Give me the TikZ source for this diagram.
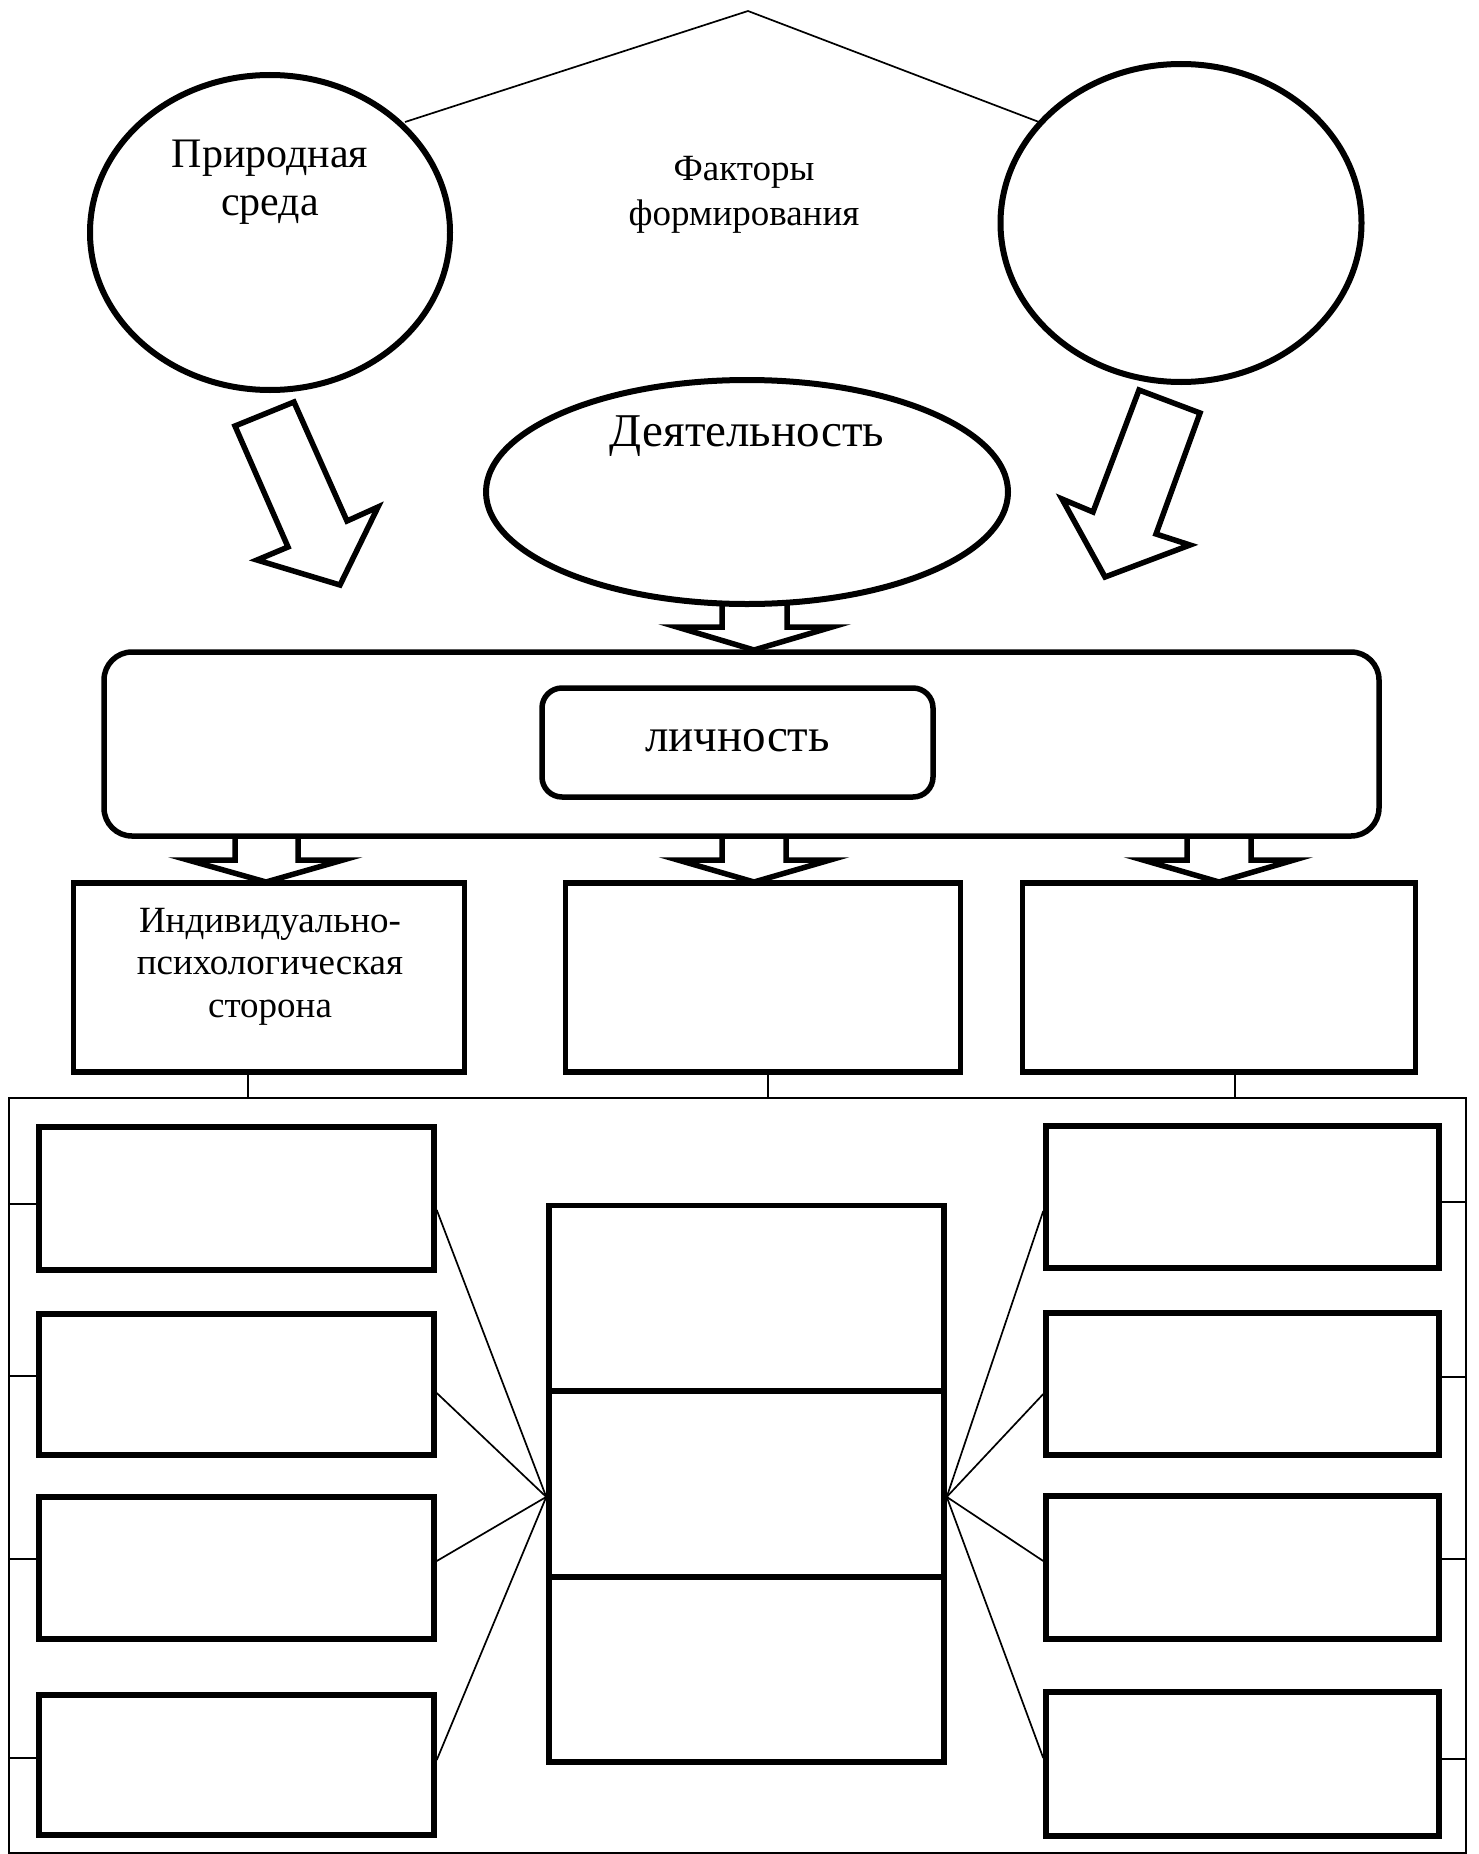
\documentclass[tikz,border=0pt]{standalone}
\usepackage{fontspec}
\setmainfont{Liberation Serif}
\usetikzlibrary{shapes.geometric,calc}
\begin{document}
\begin{tikzpicture}[x=1pt,y=-1pt,
  thickbox/.style={draw, line width=5.5pt, rectangle, inner sep=0pt},
  oval/.style={draw, line width=6pt, ellipse, inner sep=0pt},
  thinline/.style={line width=1.7pt},
  blockarrow/.style={draw, line width=5.5pt, line join=miter, fill=white},
  openarrow/.style={line width=5.5pt, line join=miter},
  txt/.style={anchor=base, inner sep=0pt},
  big/.style={font=\fontsize{42pt}{47pt}\selectfont},
  huge/.style={font=\fontsize{47pt}{52pt}\selectfont},
  mid/.style={font=\fontsize{37pt}{44pt}\selectfont}]
\useasboundingbox (0,0) rectangle (1478,1854);

% top: ellipses and the roof lines
\node[oval, minimum width=360pt, minimum height=315pt] (L) at (270,232.5) {};
\node[oval, minimum width=361pt, minimum height=318pt] (R) at (1181,223) {};
\node[oval, minimum width=522pt, minimum height=224pt] (M) at (747,492) {};
\coordinate (pk) at (748,11);
\coordinate (la) at (405,122);
\coordinate (ra) at (1039,122);
\draw[thinline] (la) -- (pk) -- (ra);

\node[txt, big] (t1a) at (270,168) {Природная};
\node[txt, big] (t1b) at (270,215) {среда};
\node[txt, mid] (t2a) at (744,181) {Факторы};
\node[txt, mid] (t2b) at (744,225) {формирования};
\node[txt, huge] (t3) at (747,446) {Деятельность};

% slanted block arrows
\draw[blockarrow] (235,426) -- (294,402) -- (347,521) -- (378,507) -- (340,585) -- (257,560) -- (288,547) -- cycle;
\draw[blockarrow] (1139,390) -- (1200,413) -- (1156,534) -- (1190,545) -- (1105,577) -- (1062,499) -- (1093,512) -- cycle;

% personality block
\node[thickbox, rounded corners=28pt, minimum width=1275pt, minimum height=184pt] (BR) at (741.5,744) {};
\node[thickbox, rounded corners=20pt, minimum width=391pt, minimum height=109pt] (LI) at (737.5,742.5) {};
\node[txt, huge] (t4) at (737.5,751) {личность};

% arrow from Деятельность to the block
\draw[openarrow] (722,604) -- (722,627) -- (677,627) -- (754,650) -- (832,627) -- (787,627) -- (787,604);

% three boxes
\node[thickbox, minimum width=391pt, minimum height=189pt] (B1) at (269,977.5) {};
\node[thickbox, minimum width=395pt, minimum height=189pt] (B2) at (763,977.5) {};
\node[thickbox, minimum width=393pt, minimum height=189pt] (B3) at (1219,977.5) {};
\node[txt, mid] (t5a) at (270,932) {Индивидуально-};
\node[txt, mid] (t5b) at (270,974) {психологическая};
\node[txt, mid] (t5c) at (270,1017) {сторона};

% arrows from the block to the three boxes
\draw[openarrow] (235,836) -- (235,860) -- (188,860) -- (266,882) -- (343,860) -- (298,860) -- (298,836);
\draw[openarrow] (722,836) -- (722,860) -- (678,860) -- (754,882) -- (830,860) -- (786,860) -- (786,836);
\draw[openarrow] (1187,836) -- (1187,860) -- (1143,860) -- (1219,882) -- (1294,860) -- (1251,860) -- (1251,836);

% outer frame
\node[draw, thinline, rectangle, inner sep=0pt, minimum width=1457pt, minimum height=754.7pt] (OUT) at (737.5,1475.35) {};

% stubs from three boxes to frame
\coordinate (s1) at ($(B1.south)+(-21,0)$);
\coordinate (s2) at ($(B2.south)+(5,0)$);
\coordinate (s3) at ($(B3.south)+(16,0)$);
\draw[thinline] (s1) -- (s1 |- OUT.north);
\draw[thinline] (s2) -- (s2 |- OUT.north);
\draw[thinline] (s3) -- (s3 |- OUT.north);

% left column
\node[thickbox, minimum width=395pt, minimum height=143pt] (LB1) at (236.5,1198.5) {};
\node[thickbox, minimum width=395pt, minimum height=141pt] (LB2) at (236.5,1384.5) {};
\node[thickbox, minimum width=395pt, minimum height=142pt] (LB3) at (236.5,1568) {};
\node[thickbox, minimum width=395pt, minimum height=140pt] (LB4) at (236.5,1765) {};
% right column
\node[thickbox, minimum width=393pt, minimum height=142pt] (RB1) at (1242.5,1197) {};
\node[thickbox, minimum width=393pt, minimum height=142pt] (RB2) at (1242.5,1384) {};
\node[thickbox, minimum width=393pt, minimum height=143pt] (RB3) at (1242.5,1567.5) {};
\node[thickbox, minimum width=393pt, minimum height=144pt] (RB4) at (1242.5,1764) {};
% middle stack
\node[thickbox, minimum width=395pt, minimum height=185.6pt] (MS1) at (746.5,1298.2) {};
\node[thickbox, minimum width=395pt, minimum height=185.7pt] (MS2) at (746.5,1483.9) {};
\node[thickbox, minimum width=395pt, minimum height=185pt] (MS3) at (746.5,1669.3) {};

% fan lines
\coordinate (cl) at ($(MS2.west)+(0,13)$);
\coordinate (cr) at ($(MS2.east)+(0,13)$);
\draw[thinline] ($(LB1.east)+(0,11.5)$) -- (cl);
\draw[thinline] ($(LB2.east)+(0,8.5)$) -- (cl);
\draw[thinline] ($(LB3.east)+(0,-7)$) -- (cl);
\draw[thinline] ($(LB4.east)+(0,-5)$) -- (cl);
\draw[thinline] ($(RB1.west)+(0,14)$) -- (cr);
\draw[thinline] ($(RB2.west)+(0,10)$) -- (cr);
\draw[thinline] ($(RB3.west)+(0,-6.5)$) -- (cr);
\draw[thinline] ($(RB4.west)+(0,-6)$) -- (cr);

% stubs from frame sides
\coordinate (l1) at ($(LB1.west)+(0,5.5)$);
\coordinate (l2) at ($(LB2.west)+(0,-8.5)$);
\coordinate (l3) at ($(LB3.west)+(0,-9)$);
\coordinate (l4) at ($(LB4.west)+(0,-7)$);
\draw[thinline] (l1) -- (l1 -| OUT.west);
\draw[thinline] (l2) -- (l2 -| OUT.west);
\draw[thinline] (l3) -- (l3 -| OUT.west);
\draw[thinline] (l4) -- (l4 -| OUT.west);
\coordinate (r1) at ($(RB1.east)+(0,5)$);
\coordinate (r2) at ($(RB2.east)+(0,-7)$);
\coordinate (r3) at ($(RB3.east)+(0,-8.5)$);
\coordinate (r4) at ($(RB4.east)+(0,-5)$);
\draw[thinline] (r1) -- (r1 -| OUT.east);
\draw[thinline] (r2) -- (r2 -| OUT.east);
\draw[thinline] (r3) -- (r3 -| OUT.east);
\draw[thinline] (r4) -- (r4 -| OUT.east);
\end{tikzpicture}
\end{document}
